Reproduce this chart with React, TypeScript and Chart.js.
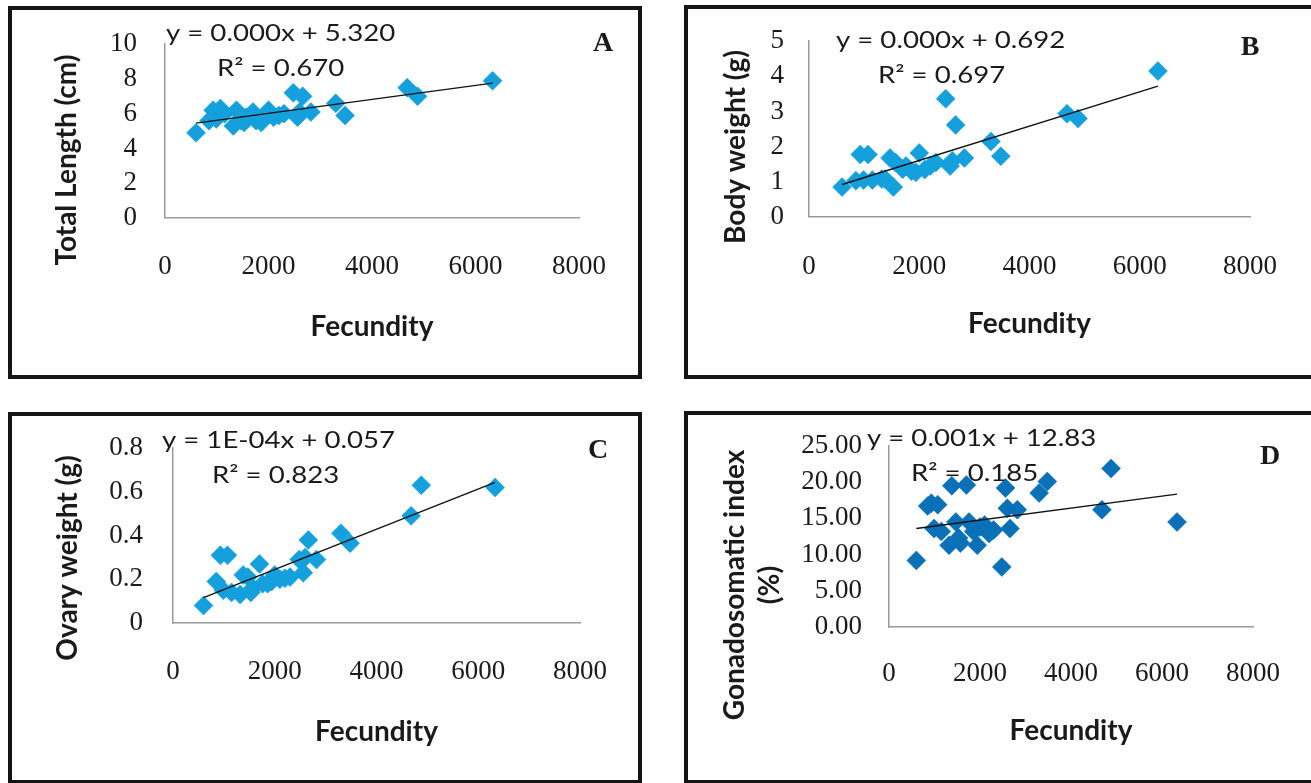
import React, { useEffect, useRef } from "react";
import { Chart, registerables } from "chart.js";

Chart.register(...registerables);

// ---- data ----
const fecundity = [600, 850, 930, 990, 1070, 1150, 1320, 1380, 1470, 1530, 1570, 1700, 1760, 1860, 1940, 2000, 2100, 2200, 2300, 2480, 2560, 2600, 2660, 2820, 3300, 3480, 4680, 4880, 6330];
const totalLength = [4.9, 5.6, 6.2, 5.7, 6.3, 6.0, 5.3, 6.2, 5.6, 5.5, 5.8, 6.1, 5.6, 5.5, 5.9, 6.2, 5.8, 5.9, 6.0, 7.2, 5.8, 6.1, 7.0, 6.1, 6.6, 5.9, 7.5, 7.0, 7.9];
const bodyWeight = [0.85, 1.03, 1.78, 1.05, 1.78, 1.05, 1.08, 1.08, 1.68, 0.85, 1.55, 1.36, 1.45, 1.3, 1.27, 1.82, 1.35, 1.45, 1.55, 3.36, 1.45, 1.6, 2.62, 1.68, 2.15, 1.73, 2.94, 2.8, 4.15];
const ovaryWeight = [0.08, 0.19, 0.31, 0.15, 0.31, 0.14, 0.13, 0.22, 0.21, 0.14, 0.16, 0.27, 0.18, 0.18, 0.19, 0.22, 0.2, 0.205, 0.21, 0.29, 0.23, 0.3, 0.38, 0.29, 0.41, 0.365, 0.49, 0.63, 0.62];
const gonadosomaticIndex = [9.2, 16.7, 17.1, 13.6, 16.9, 13.2, 11.3, 19.5, 14.5, 12.3, 11.6, 19.6, 14.5, 13.2, 11.3, 13.8, 14.1, 12.9, 13.4, 8.3, 19.2, 16.4, 13.6, 16.2, 18.5, 20.1, 16.2, 21.9, 14.5];

const panelLetters = ["A", "B", "C", "D"];
const yTitles: string[][] = [["Total Length (cm)"], ["Body weight (g)"], ["Ovary weight (g)"], ["Gonadosomatic index", "(%)"]];
const xTitle = "Fecundity";
const equations = ["y = 0.000x + 5.320", "y = 0.000x + 0.692", "y = 1E-04x + 0.057", "y = 0.001x + 12.83"];
const rSquared = ["R\u00B2 = 0.670", "R\u00B2 = 0.697", "R\u00B2 = 0.823", "R\u00B2 = 0.185"];
const yMax = [10, 5, 0.8, 25];
const yStep = [2, 1, 0.2, 5];
const yDecimals = [-1, -1, -1, 2];
const xMin = 0;
const xMax = 8000;
const xStep = 2000;

const W = 1311;
const H = 783;

// layout (page pixels)
const layouts = [
  { L: 165, R: 579, T: 38, B: 218, yW: 115.5, xH: 126.5, yPad: 28, xPad: 33, eq: [166, 33], r2: [217, 68], letter: [603, 44], yTitle: [67, 160], color: "#14A0DC" },
  { L: 809, R: 1254, T: 40, B: 217, yW: 91.5, xH: 124.5, yPad: 25, xPad: 34, eq: [836, 40], r2: [878, 75], letter: [1250, 48], yTitle: [736, 147], color: "#14A0DC" },
  { L: 173, R: 580, T: 448, B: 623, yW: 122.5, xH: 126.5, yPad: 30, xPad: 33, eq: [162, 440], r2: [212, 475], letter: [598, 451], yTitle: [68, 558], color: "#14A0DC" },
  { L: 889, R: 1257, T: 446, B: 627, yW: 171.5, xH: 121.5, yPad: 27, xPad: 31, eq: [867, 438], r2: [911, 473], letter: [1270, 457], yTitle: [735, 585], color: "#0A70B8" },
];

const boxes = [
  { left: 8, top: 6, width: 634, height: 373 },
  { left: 684, top: 5, width: 660, height: 374 },
  { left: 8, top: 412, width: 634, height: 372 },
  { left: 684, top: 411, width: 660, height: 373 },
];

const seriesValues = [totalLength, bodyWeight, ovaryWeight, gonadosomaticIndex];

function linearFit(xs: number[], ys: number[]) {
  const n = xs.length;
  let mx = 0, my = 0;
  for (let i = 0; i < n; i++) { mx += xs[i]; my += ys[i]; }
  mx /= n; my /= n;
  let sxy = 0, sxx = 0;
  for (let i = 0; i < n; i++) { sxy += (xs[i] - mx) * (ys[i] - my); sxx += (xs[i] - mx) * (xs[i] - mx); }
  const b = sxy / sxx;
  const a = my - b * mx;
  return { a, b };
}

const annotatePlugin = {
  id: "annotate",
  afterDraw(chart: any, _args: any, opts: any) {
    const ctx = chart.ctx;
    ctx.save();
    ctx.fillStyle = "#1a1a1a";
    ctx.textBaseline = "middle";
    ctx.textAlign = "left";
    ctx.font = "24px Lato";
    const lines = [[opts.eq, opts.eqPos], [opts.r2, opts.r2Pos]];
    for (const [text, pos] of lines) {
      ctx.save();
      ctx.translate(pos[0], pos[1]);
      ctx.scale(1.15, 1);
      ctx.fillText(text, 0, 0);
      ctx.restore();
    }
    // y-axis title (rotated)
    ctx.font = "bold 28px Lato";
    ctx.textAlign = "center";
    const tl: string[] = opts.yTitle;
    tl.forEach((t, k) => {
      ctx.save();
      ctx.translate(opts.yTitlePos[0] + k * 35, opts.yTitlePos[1]);
      ctx.rotate(-Math.PI / 2);
      ctx.fillText(t, 0, 0);
      ctx.restore();
    });
    ctx.font = 'bold 28px "Liberation Serif"';
    ctx.textAlign = "center";
    ctx.fillText(opts.letter, opts.letterPos[0], opts.letterPos[1]);
    ctx.restore();
  },
};

function Panel({ index }: { index: number }) {
  const ref = useRef<HTMLCanvasElement | null>(null);
  useEffect(() => {
    const canvas = ref.current;
    if (!canvas) return;
    const lay = layouts[index];
    const ys = seriesValues[index];
    const pts = fecundity.map((x, i) => ({ x, y: ys[i] }));
    const { a, b } = linearFit(fecundity, ys);
    const x0 = Math.min(...fecundity);
    const x1 = Math.max(...fecundity);
    const trend = [{ x: x0, y: a + b * x0 }, { x: x1, y: a + b * x1 }];
    const dec = yDecimals[index];
    const tickFont = { family: '"Liberation Serif"', size: 27 };
    const titleFont = { family: "Lato", size: 28, weight: "bold" as const, lineHeight: 1.25 };
    const chart = new Chart(canvas, {
      type: "scatter",
      data: {
        datasets: [
          {
            type: "line" as any,
            data: trend,
            borderColor: "#111",
            borderWidth: 1.4,
            pointRadius: 0,
            fill: false,
            order: 0,
          } as any,
          {
            data: pts,
            pointStyle: "rectRot",
            pointRadius: 9.5,
            pointBackgroundColor: lay.color,
            pointBorderColor: lay.color,
            pointBorderWidth: 0.5,
            order: 1,
          },
        ],
      },
      options: {
        responsive: false,
        animation: false,
        devicePixelRatio: 1,
        layout: {
          padding: {
            left: lay.L - lay.yW,
            top: lay.T,
            right: W - lay.R,
            bottom: H - lay.B - lay.xH,
          },
        },
        plugins: {
          legend: { display: false },
          tooltip: { enabled: false },
          annotate: {
            eq: equations[index],
            r2: rSquared[index],
            eqPos: lay.eq,
            r2Pos: lay.r2,
            letter: panelLetters[index],
            letterPos: lay.letter,
            yTitle: yTitles[index],
            yTitlePos: lay.yTitle,
          },
        } as any,
        scales: {
          x: {
            type: "linear",
            min: xMin,
            max: xMax,
            grid: { display: true, drawOnChartArea: false, drawTicks: false },
            border: { display: true, color: "#9a9a9a", width: 1.5 },
            ticks: {
              stepSize: xStep,
              maxRotation: 0,
              minRotation: 0,
              autoSkip: false,
              padding: lay.xPad,
              color: "#1a1a1a",
              font: tickFont,
              callback: (v: any) => String(Math.round(Number(v))),
            },
            title: { display: true, text: xTitle, color: "#1a1a1a", font: titleFont, padding: 0 },
            afterFit: (scale: any) => { scale.height = lay.xH; },
          },
          y: {
            type: "linear",
            min: 0,
            max: yMax[index],
            grid: { display: true, drawOnChartArea: false, drawTicks: false },
            border: { display: true, color: "#9a9a9a", width: 1.5 },
            ticks: {
              stepSize: yStep[index],
              autoSkip: false,
              padding: lay.yPad,
              color: "#1a1a1a",
              font: tickFont,
              callback: (v: any) => (dec >= 0 ? Number(v).toFixed(dec) : String(Number(Number(v).toFixed(3)))),
            },
            title: { display: false },
            afterFit: (scale: any) => { scale.width = lay.yW; },
          },
        },
      },
      plugins: [annotatePlugin],
    });
    return () => chart.destroy();
  }, [index]);
  return (
    <canvas
      ref={ref}
      width={W}
      height={H}
      style={{ position: "absolute", left: 0, top: 0, width: W, height: H }}
    />
  );
}

export default function App() {
  return (
    <div style={{ position: "absolute", left: 0, top: 0, width: W, height: H, background: "#fff", overflow: "hidden" }}>
      {boxes.map((b, i) => (
        <div
          key={"box" + i}
          style={{
            position: "absolute",
            left: b.left,
            top: b.top,
            width: b.width,
            height: b.height,
            border: "4px solid #141414",
            boxSizing: "border-box",
          }}
        />
      ))}
      {[0, 1, 2, 3].map((i) => (
        <Panel key={i} index={i} />
      ))}
    </div>
  );
}
